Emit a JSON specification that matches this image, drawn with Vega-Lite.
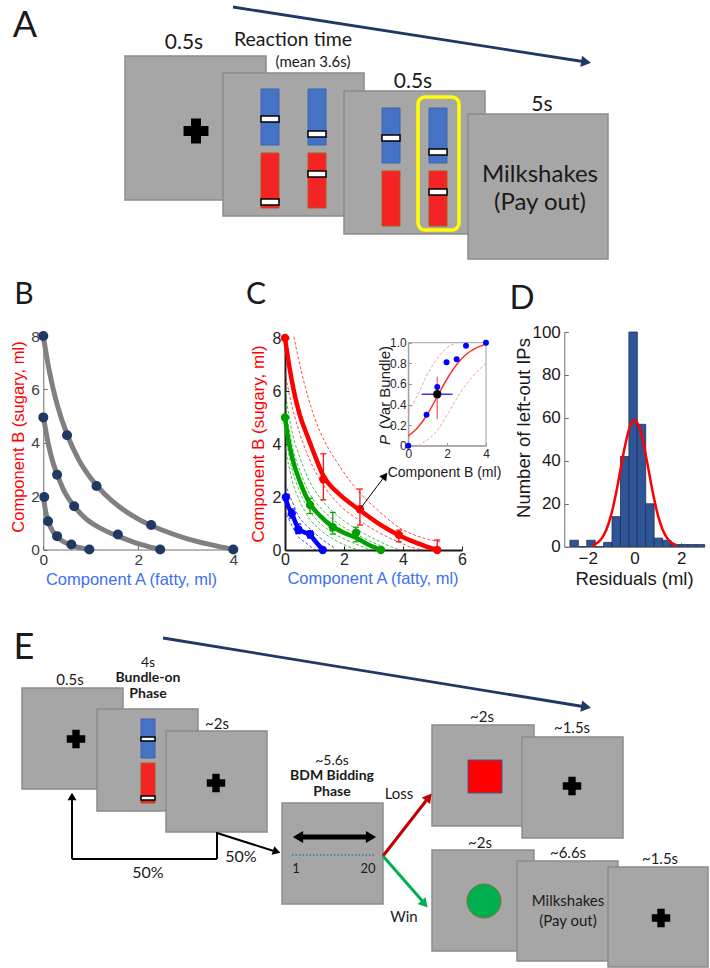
{
"$schema": "https://vega.github.io/schema/vega-lite/v6.json",
"width": 710, "height": 968,
"autosize": {"type": "none"},
"padding": 0,
"background": "#ffffff",
"config": {
  "view": {"stroke": null},
  "axis": {"grid": false, "labelFont": "Liberation Sans", "titleFont": "Liberation Sans", "labelOverlap": false, "labelFlush": false, "titleFontWeight": "normal"}
},
"datasets": {
  "screens": [
    {"x":125,"y":56,"x2":266,"y2":200},
    {"x":223,"y":73,"x2":364,"y2":216},
    {"x":344,"y":91,"x2":485,"y2":234},
    {"x":468,"y":114,"x2":608,"y2":259},
    {"x":22,"y":688,"x2":123,"y2":789},
    {"x":97,"y":709,"x2":198,"y2":811},
    {"x":166,"y":731,"x2":267,"y2":832},
    {"x":282,"y":803,"x2":383,"y2":904},
    {"x":432,"y":725,"x2":534,"y2":826},
    {"x":522,"y":737,"x2":623,"y2":838},
    {"x":432,"y":850,"x2":534,"y2":951},
    {"x":517,"y":861,"x2":618,"y2":961},
    {"x":608,"y":867,"x2":708,"y2":967}
  ],
  "bars": [
    {"x":261,"x2":279,"y":89,"y2":145,"c":"#4472C4","s":"#3B64AE"},
    {"x":308,"x2":326,"y":89,"y2":145,"c":"#4472C4","s":"#3B64AE"},
    {"x":261,"x2":279,"y":153,"y2":208,"c":"#F42424","s":"#B9551B"},
    {"x":308,"x2":326,"y":153,"y2":208,"c":"#F42424","s":"#B9551B"},
    {"x":382,"x2":400,"y":108,"y2":163,"c":"#4472C4","s":"#3B64AE"},
    {"x":429,"x2":447,"y":108,"y2":163,"c":"#4472C4","s":"#3B64AE"},
    {"x":382,"x2":400,"y":171,"y2":226,"c":"#F42424","s":"#B9551B"},
    {"x":429,"x2":447,"y":171,"y2":226,"c":"#F42424","s":"#B9551B"},
    {"x":141,"x2":155,"y":719,"y2":758,"c":"#4472C4","s":"#3B64AE"},
    {"x":141,"x2":155,"y":763,"y2":803,"c":"#F42424","s":"#B9551B"}
  ],
  "handles": [
    {"x":261,"x2":279,"y":116,"y2":122},
    {"x":308,"x2":326,"y":131,"y2":137},
    {"x":261,"x2":279,"y":199,"y2":205},
    {"x":308,"x2":326,"y":171,"y2":177},
    {"x":382,"x2":400,"y":135,"y2":141},
    {"x":429,"x2":447,"y":149,"y2":155},
    {"x":429,"x2":447,"y":189,"y2":195},
    {"x":141,"x2":155,"y":737,"y2":741},
    {"x":141,"x2":155,"y":796,"y2":800}
  ],
  "crosses": [
    {"x":196,"y":131,"s":620},
    {"x":76,"y":739,"s":340},
    {"x":216,"y":783,"s":340},
    {"x":572,"y":786,"s":340},
    {"x":661,"y":918,"s":340}
  ],
  "segs": [
    {"x":233,"y":7,"x2":586,"y2":62,"c":"#203864","w":2.8},
    {"x":163,"y":638,"x2":586,"y2":707,"c":"#203864","w":2.8},
    {"x":217,"y":832,"x2":217,"y2":859,"c":"#000000","w":2},
    {"x":217,"y":859,"x2":72,"y2":859,"c":"#000000","w":2},
    {"x":72,"y":859,"x2":72,"y2":797,"c":"#000000","w":2},
    {"x":217,"y":833,"x2":277,"y2":852,"c":"#000000","w":2},
    {"x":383,"y":856,"x2":429,"y2":797,"c":"#C00000","w":3},
    {"x":383,"y":856,"x2":425,"y2":904,"c":"#00B050","w":3},
    {"x":298,"y":837,"x2":371,"y2":837,"c":"#000000","w":5}
  ],
  "heads": [
    {"x":586.1,"y":62.1,"sh":"triangle-right","a":8.9,"s":130,"c":"#203864"},
    {"x":586.1,"y":707,"sh":"triangle-right","a":9.3,"s":130,"c":"#203864"},
    {"x":72,"y":796.5,"sh":"triangle-up","a":0,"s":80,"c":"#000000"},
    {"x":276.7,"y":851.7,"sh":"triangle-right","a":17.4,"s":80,"c":"#000000"},
    {"x":428.8,"y":797.1,"sh":"triangle-right","a":-52,"s":110,"c":"#C00000"},
    {"x":424.6,"y":904,"sh":"triangle-right","a":49,"s":110,"c":"#00B050"},
    {"x":298,"y":837,"sh":"triangle-left","a":0,"s":140,"c":"#000000"},
    {"x":371,"y":837,"sh":"triangle-right","a":0,"s":140,"c":"#000000"}
  ],
  "txt": [
    {"x":25,"y":26,"t":"A","fs":36},
    {"x":184,"y":43,"t":"0.5s","fs":21},
    {"x":293,"y":40,"t":"Reaction time","fs":19.5},
    {"x":313,"y":62,"t":"(mean 3.6s)","fs":15},
    {"x":413,"y":82,"t":"0.5s","fs":21},
    {"x":542,"y":105,"t":"5s","fs":21},
    {"x":540,"y":175,"t":"Milkshakes","fs":24},
    {"x":540,"y":203,"t":"(Pay out)","fs":24},
    {"x":24,"y":295,"t":"B","fs":30},
    {"x":256,"y":295,"t":"C","fs":30},
    {"x":522,"y":299,"t":"D","fs":33},
    {"x":24,"y":648,"t":"E","fs":36},
    {"x":70,"y":680,"t":"0.5s","fs":15},
    {"x":148,"y":662.5,"t":"4s","fs":14},
    {"x":217,"y":724,"t":"~2s","fs":15},
    {"x":332,"y":760.5,"t":"~5.6s","fs":14},
    {"x":296,"y":869,"t":"1","fs":13},
    {"x":368,"y":869,"t":"20","fs":13},
    {"x":148,"y":873,"t":"50%","fs":16},
    {"x":241,"y":857,"t":"50%","fs":16},
    {"x":399,"y":794,"t":"Loss","fs":15},
    {"x":404,"y":917,"t":"Win","fs":15},
    {"x":482,"y":717,"t":"~2s","fs":15},
    {"x":572,"y":728,"t":"~1.5s","fs":15},
    {"x":480,"y":843,"t":"~2s","fs":15},
    {"x":568,"y":853,"t":"~6.6s","fs":15},
    {"x":660,"y":859,"t":"~1.5s","fs":15},
    {"x":568,"y":901,"t":"Milkshakes","fs":15},
    {"x":568,"y":921,"t":"(Pay out)","fs":15}
  ],
  "txtb": [
    {"x":148,"y":678,"t":"Bundle-on"},
    {"x":148,"y":693.5,"t":"Phase"},
    {"x":332,"y":776,"t":"BDM Bidding"},
    {"x":332,"y":791.5,"t":"Phase"}
  ],
  "bcurve": [
    {"s":"o","x":0,"y":8},{"s":"o","x":0.1,"y":6.93},{"s":"o","x":0.2,"y":6.08},{"s":"o","x":0.3,"y":5.38},{"s":"o","x":0.5,"y":4.31},{"s":"o","x":0.75,"y":3.35},{"s":"o","x":1.0,"y":2.67},{"s":"o","x":1.3,"y":2.06},{"s":"o","x":1.6,"y":1.6},{"s":"o","x":2.0,"y":1.14},{"s":"o","x":2.5,"y":0.73},{"s":"o","x":3.0,"y":0.42},{"s":"o","x":3.5,"y":0.19},{"s":"o","x":4.0,"y":0},
    {"s":"m","x":0,"y":5.0},{"s":"m","x":0.1,"y":4.0},{"s":"m","x":0.2,"y":3.28},{"s":"m","x":0.3,"y":2.78},{"s":"m","x":0.45,"y":2.15},{"s":"m","x":0.65,"y":1.62},{"s":"m","x":0.9,"y":1.15},{"s":"m","x":1.2,"y":0.8},{"s":"m","x":1.57,"y":0.5},{"s":"m","x":1.9,"y":0.28},{"s":"m","x":2.2,"y":0.12},{"s":"m","x":2.46,"y":0},
    {"s":"i","x":0,"y":2.0},{"s":"i","x":0.05,"y":1.42},{"s":"i","x":0.1,"y":1.08},{"s":"i","x":0.15,"y":0.85},{"s":"i","x":0.2,"y":0.68},{"s":"i","x":0.3,"y":0.47},{"s":"i","x":0.4,"y":0.32},{"s":"i","x":0.55,"y":0.19},{"s":"i","x":0.7,"y":0.1},{"s":"i","x":0.85,"y":0.04},{"s":"i","x":0.97,"y":0}
  ],
  "bdots": [
    {"x":0,"y":8},{"x":0.5,"y":4.28},{"x":1.12,"y":2.38},{"x":2.27,"y":0.92},{"x":4,"y":0},
    {"x":0,"y":4.95},{"x":0.29,"y":2.8},{"x":0.65,"y":1.62},{"x":1.57,"y":0.56},{"x":2.46,"y":0},
    {"x":0.02,"y":1.97},{"x":0.1,"y":1.06},{"x":0.29,"y":0.5},{"x":0.59,"y":0.19},{"x":0.97,"y":0}
  ],
  "cline": [
    {"c":"r","x":0,"y":8},{"c":"r","x":0.15,"y":6.9},{"c":"r","x":0.3,"y":6.0},{"c":"r","x":0.5,"y":5.1},{"c":"r","x":0.76,"y":4.3},{"c":"r","x":1.0,"y":3.6},{"c":"r","x":1.3,"y":2.8},{"c":"r","x":1.8,"y":2.15},{"c":"r","x":2.54,"y":1.5},{"c":"r","x":3.2,"y":0.98},{"c":"r","x":3.86,"y":0.56},{"c":"r","x":4.5,"y":0.25},{"c":"r","x":5.16,"y":0},
    {"c":"g","x":0,"y":5},{"c":"g","x":0.1,"y":4.25},{"c":"g","x":0.25,"y":3.45},{"c":"g","x":0.5,"y":2.6},{"c":"g","x":0.85,"y":1.74},{"c":"g","x":1.2,"y":1.28},{"c":"g","x":1.62,"y":0.88},{"c":"g","x":2.0,"y":0.65},{"c":"g","x":2.41,"y":0.46},{"c":"g","x":2.8,"y":0.22},{"c":"g","x":3.25,"y":0},
    {"c":"b","x":0,"y":2},{"c":"b","x":0.12,"y":1.62},{"c":"b","x":0.23,"y":1.38},{"c":"b","x":0.45,"y":0.82},{"c":"b","x":0.65,"y":0.67},{"c":"b","x":0.85,"y":0.57},{"c":"b","x":1.05,"y":0.3},{"c":"b","x":1.28,"y":0}
  ],
  "cdash": [
    {"s":"r1","c":"r","x":0.3,"y":8.05},{"s":"r1","c":"r","x":0.5,"y":7.0},{"s":"r1","c":"r","x":0.8,"y":5.7},{"s":"r1","c":"r","x":1.0,"y":5.0},{"s":"r1","c":"r","x":1.3,"y":4.2},{"s":"r1","c":"r","x":1.8,"y":3.25},{"s":"r1","c":"r","x":2.54,"y":2.15},{"s":"r1","c":"r","x":3.2,"y":1.45},{"s":"r1","c":"r","x":3.86,"y":0.85},{"s":"r1","c":"r","x":4.5,"y":0.52},{"s":"r1","c":"r","x":5.3,"y":0.3},
    {"s":"r2","c":"r","x":0,"y":6.7},{"s":"r2","c":"r","x":0.2,"y":5.6},{"s":"r2","c":"r","x":0.5,"y":4.4},{"s":"r2","c":"r","x":0.8,"y":3.5},{"s":"r2","c":"r","x":1.3,"y":2.45},{"s":"r2","c":"r","x":1.8,"y":1.75},{"s":"r2","c":"r","x":2.54,"y":1.1},{"s":"r2","c":"r","x":3.2,"y":0.65},{"s":"r2","c":"r","x":3.86,"y":0.3},{"s":"r2","c":"r","x":4.3,"y":0.1},{"s":"r2","c":"r","x":4.68,"y":0},
    {"s":"g1","c":"g","x":0,"y":6.0},{"s":"g1","c":"g","x":0.25,"y":4.4},{"s":"g1","c":"g","x":0.5,"y":3.5},{"s":"g1","c":"g","x":0.85,"y":2.55},{"s":"g1","c":"g","x":1.2,"y":1.95},{"s":"g1","c":"g","x":1.62,"y":1.45},{"s":"g1","c":"g","x":2.0,"y":1.1},{"s":"g1","c":"g","x":2.41,"y":0.8},{"s":"g1","c":"g","x":2.8,"y":0.55},{"s":"g1","c":"g","x":3.25,"y":0.3},{"s":"g1","c":"g","x":3.6,"y":0.12},{"s":"g1","c":"g","x":3.9,"y":0},
    {"s":"g2","c":"g","x":0,"y":5.5},{"s":"g2","c":"g","x":0.25,"y":3.9},{"s":"g2","c":"g","x":0.5,"y":3.0},{"s":"g2","c":"g","x":0.85,"y":2.1},{"s":"g2","c":"g","x":1.2,"y":1.6},{"s":"g2","c":"g","x":1.62,"y":1.15},{"s":"g2","c":"g","x":2.0,"y":0.85},{"s":"g2","c":"g","x":2.41,"y":0.6},{"s":"g2","c":"g","x":2.8,"y":0.38},{"s":"g2","c":"g","x":3.25,"y":0.15},{"s":"g2","c":"g","x":3.5,"y":0},
    {"s":"g3","c":"g","x":0,"y":4.4},{"s":"g3","c":"g","x":0.25,"y":3.0},{"s":"g3","c":"g","x":0.5,"y":2.2},{"s":"g3","c":"g","x":0.85,"y":1.45},{"s":"g3","c":"g","x":1.2,"y":1.0},{"s":"g3","c":"g","x":1.62,"y":0.65},{"s":"g3","c":"g","x":2.0,"y":0.42},{"s":"g3","c":"g","x":2.41,"y":0.22},{"s":"g3","c":"g","x":2.8,"y":0.05},{"s":"g3","c":"g","x":2.95,"y":0},
    {"s":"g4","c":"g","x":0,"y":3.9},{"s":"g4","c":"g","x":0.25,"y":2.6},{"s":"g4","c":"g","x":0.5,"y":1.85},{"s":"g4","c":"g","x":0.85,"y":1.15},{"s":"g4","c":"g","x":1.2,"y":0.75},{"s":"g4","c":"g","x":1.62,"y":0.42},{"s":"g4","c":"g","x":2.0,"y":0.2},{"s":"g4","c":"g","x":2.41,"y":0.03},{"s":"g4","c":"g","x":2.5,"y":0},
    {"s":"b1","c":"b","x":0,"y":2.5},{"s":"b1","c":"b","x":0.2,"y":1.95},{"s":"b1","c":"b","x":0.45,"y":1.3},{"s":"b1","c":"b","x":0.7,"y":0.95},{"s":"b1","c":"b","x":0.95,"y":0.7},{"s":"b1","c":"b","x":1.2,"y":0.45},{"s":"b1","c":"b","x":1.45,"y":0.25},{"s":"b1","c":"b","x":1.65,"y":0.1},
    {"s":"b2","c":"b","x":0.05,"y":1.35},{"s":"b2","c":"b","x":0.2,"y":1.0},{"s":"b2","c":"b","x":0.45,"y":0.5},{"s":"b2","c":"b","x":0.7,"y":0.28},{"s":"b2","c":"b","x":0.9,"y":0.1},{"s":"b2","c":"b","x":1.05,"y":0}
  ],
  "cerr": [
    {"c":"r","x":1.3,"y":1.89,"y2":3.63},{"c":"r","x":2.54,"y":0.94,"y2":2.3},{"c":"r","x":3.86,"y":0.31,"y2":0.75},{"c":"r","x":5.16,"y":0,"y2":0.38},
    {"c":"g","x":0.85,"y":1.38,"y2":1.95},{"c":"g","x":1.62,"y":0.6,"y2":1.42},{"c":"g","x":2.41,"y":0.31,"y2":0.86},
    {"c":"b","x":0.23,"y":1.2,"y2":1.55},{"c":"b","x":0.45,"y":0.62,"y2":0.98},{"c":"b","x":0.85,"y":0.45,"y2":0.72}
  ],
  "cdots": [
    {"c":"r","x":0,"y":8},{"c":"r","x":1.3,"y":2.67},{"c":"r","x":2.54,"y":1.54},{"c":"r","x":3.86,"y":0.57},{"c":"r","x":5.16,"y":0},
    {"c":"g","x":0,"y":5},{"c":"g","x":0.85,"y":1.7},{"c":"g","x":1.62,"y":0.86},{"c":"g","x":2.41,"y":0.65},{"c":"g","x":3.25,"y":0},
    {"c":"b","x":0.03,"y":1.99},{"c":"b","x":0.23,"y":1.38},{"c":"b","x":0.45,"y":0.78},{"c":"b","x":0.85,"y":0.59},{"c":"b","x":1.28,"y":0}
  ],
  "isig": [
    {"x":0,"y":0.095},{"x":0.5,"y":0.18},{"x":1.0,"y":0.31},{"x":1.5,"y":0.48},{"x":2.0,"y":0.65},{"x":2.5,"y":0.79},{"x":3.0,"y":0.89},{"x":3.5,"y":0.95},{"x":4.0,"y":0.985}
  ],
  "idash": [
    {"s":"u","x":0,"y":0.33},{"s":"u","x":0.5,"y":0.5},{"s":"u","x":1.0,"y":0.7},{"s":"u","x":1.5,"y":0.85},{"s":"u","x":2.0,"y":0.95},{"s":"u","x":2.5,"y":1.0},
    {"s":"l","x":0.5,"y":0},{"s":"l","x":1.0,"y":0.06},{"s":"l","x":1.5,"y":0.15},{"s":"l","x":2.0,"y":0.3},{"s":"l","x":2.5,"y":0.46},{"s":"l","x":3.0,"y":0.6},{"s":"l","x":3.5,"y":0.71},{"s":"l","x":4.0,"y":0.8}
  ],
  "ipts": [
    {"x":0,"y":0},{"x":0.94,"y":0.3},{"x":1.49,"y":0.57},{"x":1.97,"y":0.81},{"x":2.49,"y":0.84},{"x":2.97,"y":0.97},{"x":4.0,"y":1.0}
  ],
  "dbars": [
    {"x":-2.76,"x2":-2.40,"y":3},{"x":-2.40,"x2":-2.04,"y":0},{"x":-2.04,"x2":-1.68,"y":3},{"x":-1.68,"x2":-1.32,"y":0},
    {"x":-1.32,"x2":-0.96,"y":2},{"x":-0.96,"x2":-0.60,"y":14},{"x":-0.60,"x2":-0.24,"y":42},{"x":-0.24,"x2":0.12,"y":100},
    {"x":0.12,"x2":0.48,"y":57},{"x":0.48,"x2":0.84,"y":20},{"x":0.84,"x2":1.20,"y":4},{"x":1.20,"x2":1.56,"y":3},
    {"x":1.56,"x2":1.92,"y":1},{"x":1.92,"x2":2.28,"y":1},{"x":2.28,"x2":2.64,"y":1},{"x":2.64,"x2":3.00,"y":1}
  ],
  "dgauss": [
    {"x":-1.8,"y":0.66},{"x":-1.6,"y":1.69},{"x":-1.4,"y":3.88},{"x":-1.2,"y":7.98},{"x":-1.0,"y":14.7},{"x":-0.8,"y":24.3},{"x":-0.6,"y":35.8},{"x":-0.4,"y":47.3},{"x":-0.2,"y":55.8},{"x":0,"y":59},
    {"x":0.2,"y":55.8},{"x":0.4,"y":47.3},{"x":0.6,"y":35.8},{"x":0.8,"y":24.3},{"x":1.0,"y":14.7},{"x":1.2,"y":7.98},{"x":1.4,"y":3.88},{"x":1.6,"y":1.69},{"x":1.8,"y":0.66}
  ]
},
"layer": [
  {
    "encoding": {
      "x": {"field": "x", "type": "quantitative", "scale": {"domain": [0, 710], "range": [0, 710], "nice": false, "zero": false}, "axis": null},
      "y": {"field": "y", "type": "quantitative", "scale": {"domain": [0, 968], "range": [0, 968], "nice": false, "zero": false}, "axis": null}
    },
    "layer": [
      {"data": {"name": "screens"}, "mark": {"type": "rect", "fill": "#A6A6A6", "stroke": "#8C8C8C", "strokeWidth": 1.5},
       "encoding": {"x2": {"field": "x2"}, "y2": {"field": "y2"}}},
      {"data": {"name": "bars"}, "mark": {"type": "rect", "strokeWidth": 1},
       "encoding": {"x2": {"field": "x2"}, "y2": {"field": "y2"}, "fill": {"field": "c", "type": "nominal", "scale": null}, "stroke": {"field": "s", "type": "nominal", "scale": null}}},
      {"data": {"name": "handles"}, "mark": {"type": "rect", "fill": "#FFFFFF", "stroke": "#000000", "strokeWidth": 1.5},
       "encoding": {"x2": {"field": "x2"}, "y2": {"field": "y2"}}},
      {"data": {"values": [{"x": 418, "x2": 459, "y": 97, "y2": 230}]}, "mark": {"type": "rect", "fill": null, "fillOpacity": 0, "stroke": "#FFFF00", "strokeWidth": 3.5, "cornerRadius": 7},
       "encoding": {"x2": {"field": "x2"}, "y2": {"field": "y2"}}},
      {"data": {"values": [{"x": 468, "x2": 502, "y": 760, "y2": 793}]}, "mark": {"type": "rect", "fill": "#FF0000", "stroke": "#3F5A9A", "strokeWidth": 1},
       "encoding": {"x2": {"field": "x2"}, "y2": {"field": "y2"}}},
      {"data": {"values": [{"x": 484, "y": 901}]}, "mark": {"type": "point", "shape": "circle", "filled": true, "fill": "#00B050", "stroke": "#8A6D2A", "strokeWidth": 1, "size": 1156, "opacity": 1}},
      {"data": {"name": "crosses"}, "mark": {"type": "point", "shape": "cross", "filled": true, "color": "#000000", "opacity": 1},
       "encoding": {"size": {"field": "s", "type": "quantitative", "scale": null}}},
      {"data": {"name": "segs"}, "mark": {"type": "rule"},
       "encoding": {"x2": {"field": "x2"}, "y2": {"field": "y2"}, "color": {"field": "c", "type": "nominal", "scale": null}, "strokeWidth": {"field": "w", "type": "quantitative", "scale": null}}},
      {"data": {"values": [{"x": 292, "x2": 376, "y": 855}]}, "mark": {"type": "rule", "color": "#4472C4", "strokeWidth": 1.5, "strokeDash": [1.5, 2]},
       "encoding": {"x2": {"field": "x2"}}},
      {"data": {"name": "heads"}, "mark": {"type": "point", "filled": true, "opacity": 1},
       "encoding": {"shape": {"field": "sh", "type": "nominal", "scale": null}, "angle": {"field": "a", "type": "quantitative", "scale": null}, "size": {"field": "s", "type": "quantitative", "scale": null}, "color": {"field": "c", "type": "nominal", "scale": null}}},
      {"data": {"name": "txt"}, "mark": {"type": "text", "font": "Lato", "align": "center", "baseline": "middle", "color": "#1A1A1A"},
       "encoding": {"text": {"field": "t"}, "size": {"field": "fs", "type": "quantitative", "scale": null}}},
      {"data": {"name": "txtb"}, "mark": {"type": "text", "font": "Lato", "fontWeight": "bold", "fontSize": 14, "align": "center", "baseline": "middle", "color": "#1A1A1A"},
       "encoding": {"text": {"field": "t"}}}
    ]
  },
  {
    "encoding": {
      "x": {"field": "x", "type": "quantitative", "scale": {"domain": [0, 4], "range": [43.3, 233.3], "nice": false, "zero": false},
        "axis": {"orient": "bottom", "offset": -418.5, "values": [0, 2, 4], "domainColor": "#6E6E6E", "tickColor": "#6E6E6E", "tickSize": -4, "labelPadding": 6.5, "labelFontSize": 15.5, "labelColor": "#404040",
          "title": "Component A (fatty, ml)", "titleColor": "#3D6FF2", "titleFontSize": 16.5, "titleX": 131, "titleY": 29.5, "titleBaseline": "middle", "titleAlign": "center"}},
      "y": {"field": "y", "type": "quantitative", "scale": {"domain": [0, 8], "range": [549.5, 336], "nice": false, "zero": false},
        "axis": {"orient": "left", "offset": -43.3, "values": [0, 2, 4, 6, 8], "domainColor": "#6E6E6E", "tickColor": "#6E6E6E", "tickSize": -4, "labelPadding": 8, "labelFontSize": 15.5, "labelColor": "#404040",
          "title": "Component B (sugary, ml)", "titleColor": "#FF0000", "titleFontSize": 16.5, "titleX": -25, "titleY": 436.5, "titleAngle": 270, "titleBaseline": "middle", "titleAlign": "center"}}
    },
    "layer": [
      {"data": {"name": "bcurve"}, "mark": {"type": "line", "color": "#808080", "strokeWidth": 5, "interpolate": "monotone", "strokeCap": "round"},
       "encoding": {"detail": {"field": "s"}}},
      {"data": {"name": "bdots"}, "mark": {"type": "point", "filled": true, "color": "#1F3864", "size": 100, "opacity": 1}}
    ]
  },
  {
    "encoding": {
      "x": {"field": "x", "type": "quantitative", "scale": {"domain": [0, 6], "range": [285, 462], "nice": false, "zero": false},
        "axis": {"orient": "bottom", "offset": -418, "values": [0, 2, 4, 6], "domainColor": "#1A1A1A", "domainWidth": 2, "tickColor": "#1A1A1A", "tickSize": -4, "labelPadding": 5.5, "labelFontSize": 16, "labelColor": "#262626",
          "title": "Component A (fatty, ml)", "titleColor": "#3D6FF2", "titleFontSize": 16.5, "titleX": 372.5, "titleY": 28.5, "titleBaseline": "middle", "titleAlign": "center"}},
      "y": {"field": "y", "type": "quantitative", "scale": {"domain": [0, 8], "range": [550, 338], "nice": false, "zero": false},
        "axis": {"orient": "left", "offset": -285, "values": [0, 2, 4, 6, 8], "domainColor": "#1A1A1A", "domainWidth": 2, "tickColor": "#1A1A1A", "tickSize": -4, "labelPadding": 8, "labelFontSize": 16, "labelColor": "#262626",
          "title": "Component B (sugary, ml)", "titleColor": "#FF0000", "titleFontSize": 17, "titleX": -26.5, "titleY": 443.5, "titleAngle": 270, "titleBaseline": "middle", "titleAlign": "center"}}
    },
    "layer": [
      {"data": {"name": "cdash"}, "mark": {"type": "line", "strokeWidth": 1, "strokeDash": [3, 2], "interpolate": "monotone", "opacity": 0.7},
       "encoding": {"detail": {"field": "s"}, "color": {"field": "c", "type": "nominal", "scale": {"domain": ["r", "g", "b"], "range": ["#FF0000", "#00A000", "#0000FF"]}, "legend": null}}},
      {"data": {"name": "cerr"}, "mark": {"type": "rule", "strokeWidth": 1.2},
       "encoding": {"y2": {"field": "y2"}, "color": {"field": "c", "type": "nominal", "scale": {"domain": ["r", "g", "b"], "range": ["#FF0000", "#00A000", "#0000FF"]}, "legend": null}}},
      {"data": {"name": "cerr"}, "mark": {"type": "tick", "orient": "horizontal", "size": 6, "thickness": 1.2, "opacity": 1},
       "encoding": {"color": {"field": "c", "type": "nominal", "scale": {"domain": ["r", "g", "b"], "range": ["#FF0000", "#00A000", "#0000FF"]}, "legend": null}}},
      {"data": {"name": "cerr"}, "mark": {"type": "tick", "orient": "horizontal", "size": 6, "thickness": 1.2, "opacity": 1},
       "encoding": {"y": {"field": "y2", "type": "quantitative"}, "color": {"field": "c", "type": "nominal", "scale": {"domain": ["r", "g", "b"], "range": ["#FF0000", "#00A000", "#0000FF"]}, "legend": null}}},
      {"data": {"name": "cline"}, "mark": {"type": "line", "strokeWidth": 4.5, "interpolate": "monotone", "strokeCap": "round"},
       "encoding": {"color": {"field": "c", "type": "nominal", "scale": {"domain": ["r", "g", "b"], "range": ["#FF0000", "#00A000", "#0000FF"]}, "legend": null}}},
      {"data": {"name": "cdots"}, "mark": {"type": "point", "filled": true, "size": 70, "opacity": 1},
       "encoding": {"color": {"field": "c", "type": "nominal", "scale": {"domain": ["r", "g", "b"], "range": ["#FF0000", "#00A000", "#0000FF"]}, "legend": null}}},
      {"data": {"values": [{"x": 2.54, "y": 1.54, "x2": 3.39, "y2": 2.8}]}, "mark": {"type": "rule", "color": "#000000", "strokeWidth": 1},
       "encoding": {"x2": {"field": "x2"}, "y2": {"field": "y2"}}},
      {"data": {"values": [{"x": 3.39, "y": 2.8}]}, "mark": {"type": "point", "shape": "triangle-up", "angle": 37, "filled": true, "color": "#000000", "size": 75, "opacity": 1}}
    ]
  },
  {
    "encoding": {
      "x": {"field": "x", "type": "quantitative", "scale": {"domain": [0, 4], "range": [408.3, 486], "nice": false, "zero": false},
        "axis": {"orient": "bottom", "offset": -522.3, "values": [0, 2, 4], "domainColor": "#8C8C8C", "tickColor": "#8C8C8C", "tickSize": -3, "labelPadding": 5.5, "labelFontSize": 12, "labelColor": "#262626",
          "title": "Component B (ml)", "titleColor": "#1A1A1A", "titleFontSize": 14, "titleX": 444, "titleY": 26.5, "titleBaseline": "middle", "titleAlign": "center"}},
      "y": {"field": "y", "type": "quantitative", "scale": {"domain": [0, 1], "range": [445.7, 342.7], "nice": false, "zero": false},
        "axis": {"orient": "left", "offset": -408.3, "values": [0, 0.2, 0.4, 0.6, 0.8, 1], "labelExpr": "datum.value === 0 ? '0' : format(datum.value, '.1f')", "domainColor": "#8C8C8C", "tickColor": "#8C8C8C", "tickSize": -3, "labelPadding": 5, "labelFontSize": 12, "labelColor": "#262626", "title": null}}
    },
    "layer": [
      {"data": {"values": [{"x": 0, "x2": 4, "y": 0, "y2": 1}]}, "mark": {"type": "rect", "fill": null, "fillOpacity": 0, "stroke": "#A0A0A0", "strokeWidth": 1},
       "encoding": {"x2": {"field": "x2"}, "y2": {"field": "y2"}}},
      {"data": {"name": "idash"}, "mark": {"type": "line", "color": "#F4A0A0", "strokeWidth": 1, "strokeDash": [3, 2], "interpolate": "monotone"},
       "encoding": {"detail": {"field": "s"}}},
      {"data": {"name": "isig"}, "mark": {"type": "line", "color": "#FF3030", "strokeWidth": 1.5, "interpolate": "monotone"}},
      {"data": {"values": [{"x": 0.69, "x2": 2.28, "y": 0.5}]}, "mark": {"type": "rule", "color": "#0000FF", "strokeWidth": 1.2},
       "encoding": {"x2": {"field": "x2"}}},
      {"data": {"values": [{"x": 1.49, "y": 0.26, "y2": 0.67}]}, "mark": {"type": "rule", "color": "#FF5050", "strokeWidth": 1.2},
       "encoding": {"y2": {"field": "y2"}}},
      {"data": {"name": "ipts"}, "mark": {"type": "point", "filled": true, "color": "#0000FF", "size": 35, "opacity": 1}},
      {"data": {"values": [{"x": 1.49, "y": 0.5}]}, "mark": {"type": "point", "filled": true, "color": "#000000", "size": 70, "opacity": 1}},
      {"data": {"values": [{"x": -1.19, "y": 0.055, "t": "P"}]}, "mark": {"type": "text", "font": "Liberation Sans", "fontStyle": "italic", "fontSize": 15, "angle": 270, "align": "center", "baseline": "middle", "color": "#1A1A1A"},
       "encoding": {"text": {"field": "t"}}},
      {"data": {"values": [{"x": -1.19, "y": 0.565, "t": "(Var Bundle)"}]}, "mark": {"type": "text", "font": "Liberation Sans", "fontSize": 15, "angle": 270, "align": "center", "baseline": "middle", "color": "#1A1A1A"},
       "encoding": {"text": {"field": "t"}}}
    ]
  },
  {
    "encoding": {
      "x": {"field": "x", "type": "quantitative", "scale": {"domain": [-3, 3], "range": [564.3, 704.7], "nice": false, "zero": false},
        "axis": {"orient": "bottom", "offset": -421.3, "values": [-2, 0, 2], "domainColor": "#6E6E6E", "tickColor": "#6E6E6E", "tickSize": -4, "labelPadding": 8, "labelFontSize": 17, "labelColor": "#1A1A1A",
          "title": "Residuals (ml)", "titleColor": "#1A1A1A", "titleFontSize": 18.5, "titleX": 634, "titleY": 32, "titleBaseline": "middle", "titleAlign": "center"}},
      "y": {"field": "y", "type": "quantitative", "scale": {"domain": [0, 100], "range": [546.7, 332], "nice": false, "zero": false},
        "axis": {"orient": "left", "offset": -564.3, "values": [0, 20, 40, 60, 80, 100], "domainColor": "#6E6E6E", "tickColor": "#6E6E6E", "tickSize": -4, "labelPadding": 8, "labelFontSize": 17, "labelColor": "#1A1A1A",
          "title": "Number of left-out IPs", "titleColor": "#1A1A1A", "titleFontSize": 18.5, "titleX": -41, "titleY": 427.5, "titleAngle": 270, "titleBaseline": "middle", "titleAlign": "center"}}
    },
    "layer": [
      {"data": {"name": "dbars"}, "mark": {"type": "rect", "fill": "#2E5597", "stroke": "#1F2F4F", "strokeWidth": 0.8},
       "encoding": {"x2": {"field": "x2"}, "y2": {"datum": 0}}},
      {"data": {"name": "dgauss"}, "mark": {"type": "line", "color": "#FF0000", "strokeWidth": 2.5, "interpolate": "monotone"}}
    ]
  }
],
"resolve": {"scale": {"x": "independent", "y": "independent", "color": "independent"}, "axis": {"x": "independent", "y": "independent"}}
}
